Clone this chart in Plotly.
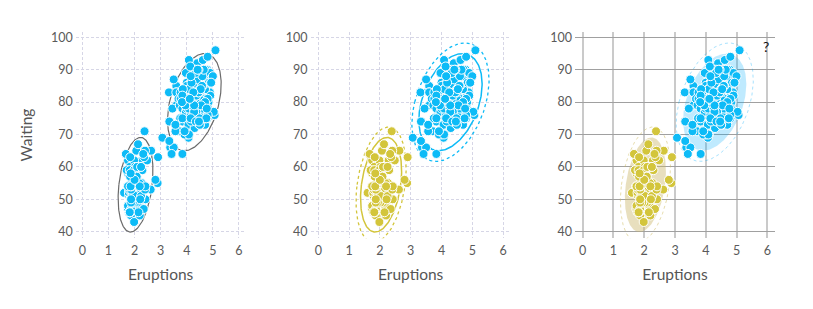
import numpy as np
import plotly.graph_objects as go

# Old Faithful data (eruptions in minutes, waiting in minutes)
eruptions = [3.600,1.800,3.333,2.283,4.533,2.883,4.700,3.600,1.950,4.350,1.833,3.917,4.200,1.750,4.700,2.167,1.750,4.800,1.600,4.250,
1.800,1.750,3.450,3.067,4.533,3.600,1.967,4.083,3.850,4.433,4.300,4.467,3.367,4.033,3.833,2.017,1.867,4.833,1.833,4.783,
4.350,1.883,4.567,1.750,4.533,3.317,3.833,2.100,4.633,2.000,4.800,4.716,1.833,4.833,1.733,4.883,3.717,1.667,4.567,4.317,
2.233,4.500,1.750,4.800,1.817,4.400,4.167,4.700,2.067,4.700,4.033,1.967,4.500,4.000,1.983,5.067,2.017,4.567,3.883,3.600,
4.133,4.333,4.100,2.633,4.067,4.933,3.950,4.517,2.167,4.000,2.200,4.333,1.867,4.817,1.833,4.300,4.667,3.750,1.867,4.900,
2.483,4.367,2.100,4.500,4.050,1.867,4.700,1.783,4.850,3.683,4.733,2.300,4.900,4.417,1.700,4.633,2.317,4.600,1.817,4.417,
2.617,4.067,4.250,1.967,4.600,3.767,1.917,4.500,2.267,4.650,1.867,4.167,2.800,4.333,1.833,4.383,1.883,4.933,2.033,3.733,
4.233,2.233,4.533,4.817,4.333,1.983,4.633,2.017,5.100,1.800,5.033,4.000,2.400,4.600,3.567,4.000,4.500,4.083,1.800,3.967,
2.200,4.150,2.000,3.833,3.500,4.583,2.367,5.000,1.933,4.617,1.917,2.083,4.583,3.333,4.167,4.333,4.500,2.417,4.000,4.167,
1.883,4.583,4.250,3.767,2.033,4.433,4.083,1.833,4.417,2.183,4.800,1.833,4.800,4.100,3.966,4.233,3.500,4.366,2.250,4.667,
2.100,4.350,4.133,1.867,4.600,1.783,4.367,3.850,1.933,4.500,2.383,4.700,1.867,3.833,3.417,4.233,2.400,4.800,2.000,4.150,
1.867,4.267,1.750,4.483,4.000,4.117,4.083,4.267,3.917,4.550,4.083,2.417,4.183,2.217,4.450,1.883,1.850,4.283,3.950,2.333,
4.150,2.350,4.933,2.900,4.583,3.833,2.083,4.367,2.133,4.350,2.200,4.450,3.567,4.500,4.150,3.817,3.917,4.450,2.000,4.283,
4.767,4.533,1.850,4.250,1.983,2.250,4.750,4.117,2.150,4.417,1.817,4.467]
waiting = [79,54,74,62,85,55,88,85,51,85,54,84,78,47,83,52,62,84,52,79,
51,47,78,69,74,83,55,76,78,79,73,77,66,80,74,52,48,80,59,90,
80,58,84,58,73,83,64,53,82,59,75,90,54,80,54,83,71,64,77,81,
59,84,48,82,60,92,78,78,65,73,82,56,79,71,62,76,60,78,76,83,
75,82,70,65,73,88,76,80,48,86,60,90,50,78,63,72,84,75,51,82,
62,88,49,83,81,47,84,52,86,81,75,59,89,79,59,81,50,85,59,87,
53,69,77,56,88,81,45,82,55,90,45,83,56,89,46,82,51,86,53,79,
81,60,82,77,76,59,80,49,96,53,77,77,65,81,71,70,81,93,53,89,
45,86,58,78,66,76,63,88,52,93,49,57,77,68,81,81,73,50,85,74,
55,77,83,83,51,78,84,46,83,55,81,57,76,84,77,81,87,77,51,78,
60,82,91,53,78,46,77,84,49,83,71,80,49,75,64,76,53,94,55,76,
50,82,54,75,78,79,78,78,70,79,70,54,86,50,90,54,54,77,79,64,
75,47,86,63,85,82,57,82,67,74,54,83,73,73,88,80,71,83,56,79,
78,84,58,83,43,60,75,81,46,90,46,74]

x_ticks = [0, 1, 2, 3, 4, 5, 6]
y_ticks = [40, 50, 60, 70, 80, 90, 100]

CYAN = "#0dbbf7"
YELLOW = "#d3c53b"
FONT = "Lato, 'Open Sans', sans-serif"

ex = np.array(eruptions)
wt = np.array(waiting)
short = ex < 3
groups = [(ex[short], wt[short]), (ex[~short], wt[~short])]
group_colors = [YELLOW, CYAN]


def ellipse(xs, ys, k):
    mu = np.array([xs.mean(), ys.mean()])
    cov = np.cov(np.vstack([xs, ys]))
    vals, vecs = np.linalg.eigh(cov)
    t = np.linspace(0, 2 * np.pi, 200)
    circ = np.vstack([np.cos(t), np.sin(t)])
    pts = vecs @ (np.sqrt(vals)[:, None] * circ) * k + mu[:, None]
    return pts[0], pts[1]


K_IN = 2.5
K_OUT = 3.05

fig = go.Figure()

# ---- panel 1 ----
for (gx, gy) in groups:
    px_, py_ = ellipse(gx, gy, K_IN)
    fig.add_trace(go.Scatter(x=px_, y=py_, mode="lines", line=dict(color="#6b6b6b", width=1.2),
                             xaxis="x", yaxis="y", hoverinfo="skip"))
fig.add_trace(go.Scatter(x=eruptions, y=waiting, mode="markers",
                         marker=dict(color=CYAN, size=9, line=dict(color="white", width=1)),
                         xaxis="x", yaxis="y"))

# ---- panel 2 ----
for (gx, gy), c in zip(groups, group_colors):
    px_, py_ = ellipse(gx, gy, K_OUT)
    fig.add_trace(go.Scatter(x=px_, y=py_, mode="lines", line=dict(color=c, width=1.3, dash="dot"),
                             xaxis="x2", yaxis="y2", hoverinfo="skip"))
    px_, py_ = ellipse(gx, gy, K_IN)
    fig.add_trace(go.Scatter(x=px_, y=py_, mode="lines", line=dict(color=c, width=1.5),
                             xaxis="x2", yaxis="y2", hoverinfo="skip"))
for (gx, gy), c in zip(groups, group_colors):
    fig.add_trace(go.Scatter(x=gx, y=gy, mode="markers",
                             marker=dict(color=c, size=9, line=dict(color="white", width=1)),
                             xaxis="x2", yaxis="y2"))

# ---- panel 3 ----
fills = ["rgba(205,185,110,0.45)", "rgba(0,170,250,0.25)"]
outer = ["rgba(205,185,90,0.5)", "rgba(0,170,250,0.35)"]
for (gx, gy), f, o in zip(groups, fills, outer):
    px_, py_ = ellipse(gx, gy, K_OUT)
    fig.add_trace(go.Scatter(x=px_, y=py_, mode="lines", line=dict(color=o, width=1, dash="dot"),
                             xaxis="x3", yaxis="y3", hoverinfo="skip"))
    px_, py_ = ellipse(gx, gy, K_IN)
    fig.add_trace(go.Scatter(x=px_, y=py_, mode="lines", fill="toself", fillcolor=f,
                             line=dict(color="rgba(0,0,0,0)", width=0),
                             xaxis="x3", yaxis="y3", hoverinfo="skip"))
for (gx, gy), c in zip(groups, group_colors):
    fig.add_trace(go.Scatter(x=gx, y=gy, mode="markers",
                             marker=dict(color=c, size=9, line=dict(color="white", width=1)),
                             xaxis="x3", yaxis="y3"))

W, H = 813, 309
ydom = [(H - 238.5) / H, (H - 30.1) / H]
doms = [[75.8 / W, 245.5 / W], [310.6 / W, 510.8 / W], [575 / W, 775 / W]]

tickfont = dict(family=FONT, size=12.5, color="#5a5a5a")
titlefont = dict(family=FONT, size=15.5, color="#555555")

dash_grid = dict(showgrid=True, gridcolor="#d6d6e6", griddash="3px,2px", gridwidth=1)
layout = dict(
    width=W, height=H, margin=dict(l=0, r=0, t=0, b=0),
    paper_bgcolor="white", plot_bgcolor="white", showlegend=False,
    font=dict(family=FONT),
)
for i in range(3):
    sx = "" if i == 0 else str(i + 1)
    if i < 2:
        gx = dict(dash_grid)
        gy = dict(dash_grid)
    else:
        gx = dict(showgrid=True, gridcolor="#cacaca", gridwidth=2)
        gy = dict(showgrid=True, gridcolor="#a0a0a0", gridwidth=1.2)
    layout["xaxis" + sx] = dict(domain=doms[i], range=[-0.25, 6.25], tickvals=x_ticks,
                                anchor="y" + sx, zeroline=False, showline=False, ticks="",
                                ticklabelstandoff=3,
                                tickfont=tickfont, title=dict(text="Eruptions", font=titlefont, standoff=12),
                                **gx)
    layout["yaxis" + sx] = dict(domain=ydom, range=[38, 101.7], tickvals=y_ticks,
                                anchor="x" + sx, zeroline=False, showline=False, ticks="",
                                ticklabelstandoff=2,
                                tickfont=tickfont, **gy)
layout["yaxis"]["title"] = dict(text="Waiting", font=titlefont, standoff=14)

fig.update_layout(**layout)
fig.add_annotation(text="?", x=771 / W, y=(H - 34) / H, xref="paper", yref="paper",
                   showarrow=False, font=dict(family=FONT, size=14, color="#111111"))

fig.write_html("out.html")
